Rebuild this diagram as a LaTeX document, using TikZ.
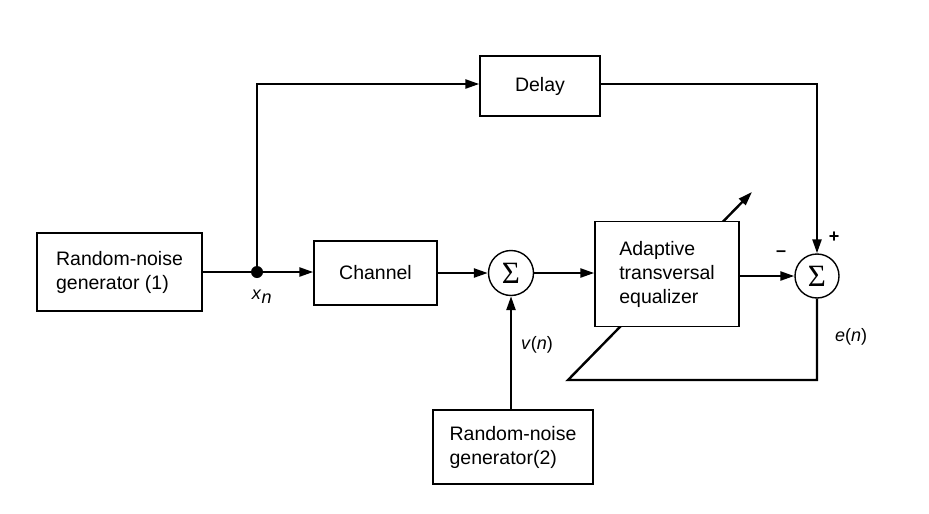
\documentclass[tikz,border=0pt]{standalone}
\usepackage{fontspec}
\setmainfont{Liberation Sans}
\newfontfamily\sigmafont{Liberation Serif}
\usetikzlibrary{arrows.meta,backgrounds}
\begin{document}
\begin{tikzpicture}[x=1pt,y=-1pt,
  blk/.style={draw,line width=1.4pt,fill=white,inner sep=0pt,font=\fontsize{19.5}{24}\selectfont},
  sumnode/.style={draw,circle,line width=1.4pt,fill=white,minimum size=45pt,inner sep=0pt,font=\sigmafont\fontsize{31}{31}\selectfont},
  conn/.style={line width=2.4pt,-{Triangle[length=14pt,width=9pt]}},
  wire/.style={line width=2.4pt},
  lbl/.style={font=\fontsize{18}{20}\selectfont}]
\useasboundingbox (0,0) rectangle (929,514);
\node[blk,minimum width=165pt,minimum height=78pt,align=left] (rng1) at (119.5,272) {Random-noise\\generator (1)};
\node[blk,minimum width=123pt,minimum height=64pt] (chan) at (375.5,273) {Channel};
\node[sumnode] (s1) at (511,273) {Σ};
\node[blk,minimum width=144pt,minimum height=105pt,align=left] (eq) at (667,274) {Adaptive\\transversal\\equalizer};
\node[sumnode,minimum size=44pt] (s2) at (817,276) {Σ};
\node[blk,minimum width=120pt,minimum height=60pt] (delay) at (540,86) {Delay};
\node[blk,minimum width=160pt,minimum height=74pt,align=left] (rng2) at (513,447) {Random-noise\\generator(2)};
\node[circle,fill=black,minimum size=12pt,inner sep=0pt] (jn) at (257,272) {};
\coordinate (tl) at (257,84);
\coordinate (tr) at (817,84);
\coordinate (br) at (817,380);
\coordinate (bl) at (568,380);
\coordinate (tip) at (752,192);
\draw[wire] (rng1.east |- jn) -- (jn);
\draw[conn] (jn) -- (chan.west |- jn);
\draw[conn] (jn) -- (tl) -- (delay.west |- tl);
\draw[conn] (delay.east |- tr) -- (tr) -- (s2.north);
\draw[conn] (chan.east |- s1) -- (s1.west);
\draw[conn] (s1.east) -- (eq.west |- s1);
\draw[conn] (eq.east |- s2) -- (s2.west);
\draw[conn] (rng2.north -| s1) -- (s1.south);
\begin{scope}[on background layer]
\draw[wire,line join=miter,-{Triangle[length=14pt,width=9pt]}] (s2.south) -- (br) -- (bl) -- (tip);
\end{scope}
\node[lbl] (xn) at (262,297) {\textit{x}$_{\textit{n}}$};
\node[lbl] (vn) at (537,345) {\textit{v}(\textit{n})};
\node[lbl] (en) at (851,337) {\textit{e}(\textit{n})};
\node[lbl] (plus) at (834,237) {\textbf{+}};
\node[lbl] (minus) at (781,254) {\textbf{–}};
\end{tikzpicture}
\end{document}
